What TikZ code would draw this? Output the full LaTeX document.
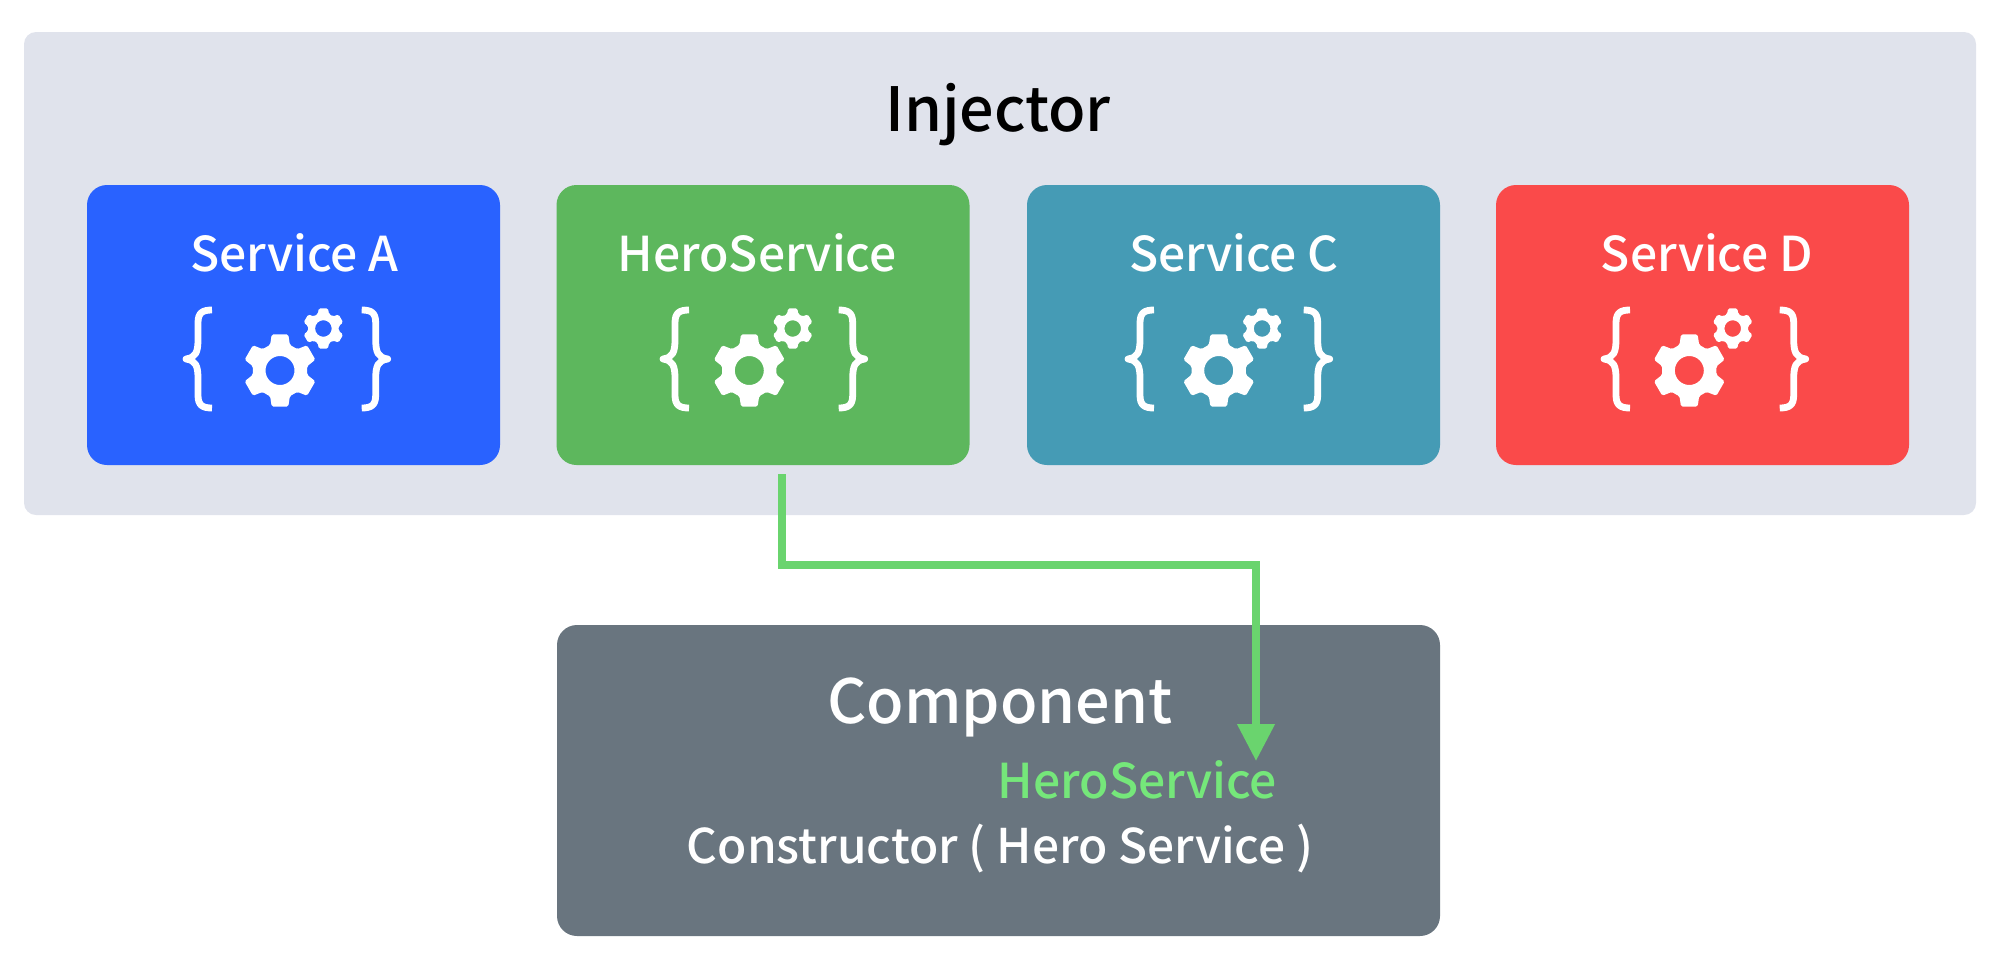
\documentclass[tikz,border=0pt]{standalone}
\usepackage{fontspec}
\setmainfont{Noto Sans CJK KR Medium}
\usetikzlibrary{arrows.meta}

\definecolor{panelgray}{HTML}{E0E3EC}
\definecolor{serviceblue}{HTML}{2962FF}
\definecolor{servicegreen}{HTML}{5DB75D}
\definecolor{serviceteal}{HTML}{459BB5}
\definecolor{servicered}{HTML}{FA4A4A}
\definecolor{compgray}{HTML}{69757F}
\definecolor{wiregreen}{HTML}{6AD46E}
\definecolor{herogreen}{HTML}{75E77A}

\tikzset{
  panelbox/.style={fill=panelgray, rounded corners=6pt, minimum width=976pt, minimum height=241.5pt, inner sep=0pt},
  servicebox/.style={rounded corners=10pt, minimum width=206.5pt, minimum height=140pt, inner sep=0pt},
  compbox/.style={fill=compgray, rounded corners=10pt, minimum width=441.5pt, minimum height=155.5pt, inner sep=0pt},
  boxtext/.style={text=white, anchor=base, inner sep=0pt},
  bracestroke/.style={draw=white, line width=3.4pt, line cap=butt, line join=round}
}

\newcommand{\gearshape}[5]{
  \fill[white, even odd rule, shift={(#1,#2)}, rounded corners=0.8pt] (120:#3)
    \foreach \ang in {90,30,-30,-90,-150,-210} {
      -- (\ang+21:#3) -- (\ang+13:#4) -- (\ang-13:#4) -- (\ang-21:#3)
    } -- cycle (0,0) circle (#5);
}

\newcommand{\bracepath}{
  (29,-49) .. controls (19,-49) and (15,-46) .. (15,-36) -- (15,-20)
  .. controls (15,-7) and (13,-1.5) .. (3,0)
  .. controls (13,1.5) and (15,7) .. (15,20) -- (15,36)
  .. controls (15,46) and (19,49) .. (29,49)
}

\newcommand{\iconset}[2]{
  \gearshape{#1}{370.5}{27.5}{37}{14.5}
  \gearshape{#1+43.4}{328.5}{15.5}{20.7}{8.3}
  \draw[bracestroke, shift={(#2,359)}] \bracepath;
  \draw[bracestroke, shift={(#2+207.7,359)}, xscale=-1] \bracepath;
}

\begin{document}
\begin{tikzpicture}[x=0.5pt,y=-0.5pt]
  \useasboundingbox (0,0) rectangle (2000,964);

  % Boxes (outer)
  \node[panelbox] (injector) at (1000,273.5) {};
  \node[boxtext, text=black, font=\fontsize{30.5}{30.5}\selectfont] (injectorlabel) at (998,131) {Injector};

  % Boxes (services)
  \node[servicebox, fill=serviceblue] (servicea) at (293.5,325) {};
  \node[servicebox, fill=servicegreen] (heroservice) at (763,325) {};
  \node[servicebox, fill=serviceteal] (servicec) at (1233.5,325) {};
  \node[servicebox, fill=servicered] (serviced) at (1702.5,325) {};

  \node[boxtext, font=\fontsize{24}{24}\selectfont] (labela) at (294.5,271) {Service A};
  \node[boxtext, font=\fontsize{24}{24}\selectfont] (labelb) at (757,271) {HeroService};
  \node[boxtext, font=\fontsize{24}{24}\selectfont] (labelc) at (1234,271) {Service C};
  \node[boxtext, font=\fontsize{24}{24}\selectfont] (labeld) at (1707,271) {Service D};

  % Icons
  \iconset{280}{183}
  \iconset{749.3}{660}
  \iconset{1218.7}{1125}
  \iconset{1689.3}{1601}

  % Boxes (component)
  \node[compbox] (component) at (998.5,780.5) {};
  \node[boxtext, font=\fontsize{30.5}{30.5}\selectfont] (complabel) at (1000,723) {Component};
  \node[boxtext, text=herogreen, font=\fontsize{24}{24}\selectfont] (herolabel) at (1137.5,798) {HeroService};
  \node[boxtext, font=\fontsize{23.9}{24}\selectfont] (ctorlabel) at (1000,863) {Constructor ( Hero Service )};

  % Arcs
  \coordinate (wirestart) at (782,474);
  \coordinate (wirebend) at (782,565);
  \coordinate (wireend) at (1256,761);
  \draw[-{Triangle[length=18.5pt,width=18pt]}, draw=wiregreen, line width=3.75pt]
    (wirestart) -- (wirebend) -| (wireend);
\end{tikzpicture}
\end{document}
